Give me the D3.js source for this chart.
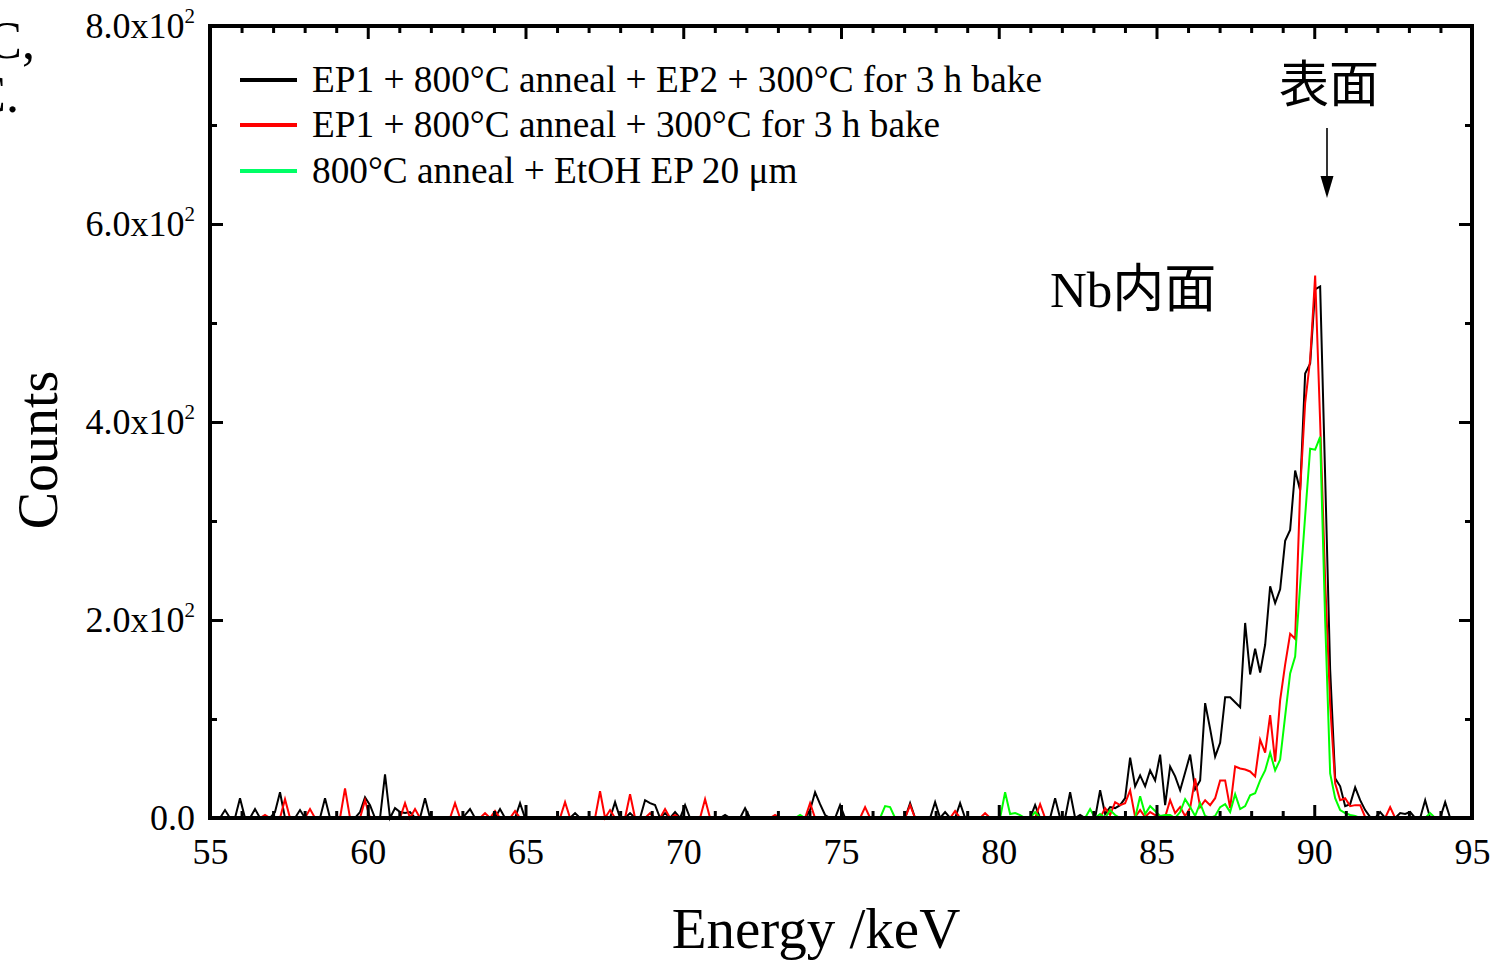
<!DOCTYPE html>
<html><head><meta charset="utf-8">
<script src="https://cdn.jsdelivr.net/npm/d3@7"></script>
<style>body{margin:0;background:#fff;} svg{display:block;}</style>
</head><body>
<svg id="c" width="1496" height="960"></svg>
<script>
// Spectrum channel calibration (keV)
const energyStart = 55.0;
const energyStep = 0.1585;

// Counts per channel
const countsEP2 = [
0,0,0,8,0,0,20,0,0,9,
0,0,0,6,26,0,0,0,8,0,
0,0,0,20,0,0,0,0,0,0,
6,21,13,0,0,44,0,10,6,5,
6,0,0,20,0,0,0,0,0,0,
0,3,9,0,0,0,0,0,9,0,
0,0,15,0,0,0,0,0,0,0,
0,0,0,5,0,0,0,0,0,0,
0,16,0,0,5,0,0,18,15,13,
0,5,0,6,0,13,0,0,0,0,
0,0,0,3,0,0,0,10,0,0,
0,0,0,0,0,0,0,0,0,0,
8,26,14,3,0,0,13,0,0,0,
0,0,0,0,0,0,0,0,0,0,
15,0,0,0,0,16,0,6,0,0,
15,0,0,0,0,0,0,0,0,0,
0,0,0,0,0,13,0,0,0,20,
0,0,26,0,3,0,0,0,28,4,
11,10,13,20,61,32,43,32,48,38,
64,13,52,42,28,46,64,29,38,116,
90,62,76,122,122,117,112,197,145,171,
147,175,234,217,231,280,291,351,331,449,
459,534,537,345,150,40,32,12,14,31,
18,8,1,0,6,0,0,0,5,4,
6,0,0,18,0,0,0,16,0,0,
0];
const countsNoEP2 = [
0,0,0,0,0,0,0,0,0,0,
0,3,0,0,0,19,0,0,0,0,
9,0,0,0,0,0,0,30,0,0,
0,18,0,0,0,0,0,0,0,15,
0,9,0,0,0,0,0,0,0,15,
0,0,0,0,0,5,0,7,0,0,
0,7,0,0,0,0,0,0,0,0,
0,16,0,0,0,0,0,0,27,0,
8,0,0,0,24,0,0,0,5,0,
0,9,0,3,0,0,0,0,0,19,
0,0,0,0,0,0,0,0,0,0,
0,0,0,3,0,0,0,0,0,0,
15,0,0,0,0,0,0,0,0,0,
0,11,0,0,0,0,0,0,0,0,
13,0,0,0,0,0,0,0,0,7,
0,0,0,0,0,5,0,0,0,0,
0,0,0,0,0,0,14,0,0,0,
0,0,0,0,0,0,0,0,0,10,
3,16,13,15,28,1,8,1,6,3,
1,1,18,5,11,2,10,40,11,18,
13,20,38,38,10,52,50,49,47,42,
79,66,104,57,119,155,186,181,331,419,
463,548,400,240,115,35,18,20,12,13,
13,1,0,0,0,0,11,0,0,0,
0,0,0,0,0,0,0,0,0,0,
0];
const countsEtOH = [
0,0,0,0,0,0,0,0,0,0,
0,0,0,0,0,0,0,0,0,0,
0,0,0,0,0,0,0,0,0,0,
0,0,0,0,0,0,0,0,0,0,
0,0,0,0,0,0,0,0,0,0,
0,0,0,0,0,0,0,0,0,0,
0,0,0,0,0,0,0,0,0,0,
0,0,0,0,0,0,0,0,0,0,
0,0,0,0,0,0,0,0,0,0,
0,0,0,0,0,0,0,0,0,0,
0,0,0,0,0,0,0,0,0,0,
0,0,0,0,0,0,0,0,3,0,
0,0,1,0,0,0,0,0,0,0,
0,0,0,0,0,12,11,0,0,0,
0,0,0,0,0,0,0,0,0,0,
0,0,0,0,0,0,0,0,0,26,
4,5,3,0,0,6,0,0,0,0,
0,0,0,0,0,0,9,0,4,0,
8,3,0,0,0,0,22,4,12,7,
2,3,3,0,6,19,11,2,15,2,
0,2,11,14,6,24,9,12,23,25,
38,48,66,48,59,103,146,163,235,305,
373,372,385,200,45,20,8,5,3,2,
0,0,0,0,0,0,0,0,0,0,
0,0,0,0,5,0,0,0,0,0,
0];

const seriesNames = [
  "EP1 + 800\u00B0C anneal + EP2 + 300\u00B0C for 3 h bake",
  "EP1 + 800\u00B0C anneal + 300\u00B0C for 3 h bake",
  "800\u00B0C anneal + EtOH EP 20 \u03BCm"
];
const seriesColors = ["#000000", "#ff0000", "#00ff00"];
const legendColors = ["#000000", "#ff0000", "#00ff66"];

const xTickValues = [55, 60, 65, 70, 75, 80, 85, 90, 95];
const xTickLabels = ["55", "60", "65", "70", "75", "80", "85", "90", "95"];
const yTickValues = [0, 200, 400, 600, 800];
const yTickMantissa = ["0.0", "2.0", "4.0", "6.0", "8.0"];
const yTickExponent = ["", "2", "2", "2", "2"];
const yMinorValues = [100, 300, 500, 700];

const xTitle = "Energy /keV";
const yTitle = "Counts";
const surfaceLabel = "\u8868\u9762";
const innerLabelLatin = "Nb";
const innerLabelCJK = "\u5185\u9762";
const edgeFragments = ["C,", "C."];

const serif = "'Liberation Serif','Times New Roman',serif";
const cjk = "'Noto Sans CJK JP','Noto Sans CJK SC',sans-serif";

const svg = d3.select("#c");
const L = 210, R = 1472, T = 26, B = 818;
const x = d3.scaleLinear().domain([55, 95]).range([L, R]);
const y = d3.scaleLinear().domain([0, 800]).range([B, T]);

const energies = countsEP2.map((_, i) => energyStart + i * energyStep);
const series = [countsEP2, countsNoEP2, countsEtOH];

// cropped fragments at top-left (text continuing from outside the picture)
svg.append("text").attr("x", 35).attr("y", 58).attr("text-anchor", "end")
  .attr("font-family", serif).attr("font-size", 52).text(edgeFragments[0]);
svg.append("text").attr("x", 19).attr("y", 112).attr("text-anchor", "end")
  .attr("font-family", serif).attr("font-size", 52).text(edgeFragments[1]);

// lines
const line = d3.line().x((d, i) => x(energies[i])).y(d => y(d));
series.forEach((s, k) => {
  svg.append("path").datum(s).attr("d", line)
    .attr("fill", "none").attr("stroke", seriesColors[k])
    .attr("stroke-width", 2).attr("stroke-linejoin", "miter");
});

// axes with inward ticks
const major = 13, minor = 7;
const xMinor = d3.range(56, 95, 1).filter(v => v % 5 !== 0);
function styleAxis(g) {
  g.select(".domain").remove();
  g.selectAll(".tick line").attr("stroke", "#000").attr("stroke-width", 3);
}
// bottom
svg.append("g").attr("transform", `translate(0,${B})`)
  .call(d3.axisBottom(x).tickValues(xTickValues).tickSizeInner(-major).tickSizeOuter(0)
    .tickPadding(20).tickFormat((d, i) => xTickLabels[i]))
  .call(styleAxis)
  .call(g => g.selectAll("text").attr("font-family", serif).attr("font-size", 36).attr("fill", "#000"));
svg.append("g").attr("transform", `translate(0,${B})`)
  .call(d3.axisBottom(x).tickValues(xMinor).tickSizeInner(-minor).tickSizeOuter(0).tickFormat(""))
  .call(styleAxis);
// top
svg.append("g").attr("transform", `translate(0,${T})`)
  .call(d3.axisTop(x).tickValues(xTickValues).tickSizeInner(-major).tickSizeOuter(0).tickFormat(""))
  .call(styleAxis);
svg.append("g").attr("transform", `translate(0,${T})`)
  .call(d3.axisTop(x).tickValues(xMinor).tickSizeInner(-minor).tickSizeOuter(0).tickFormat(""))
  .call(styleAxis);
// left
svg.append("g").attr("transform", `translate(${L},0)`)
  .call(d3.axisLeft(y).tickValues(yTickValues).tickSizeInner(-major).tickSizeOuter(0)
    .tickPadding(15).tickFormat((d, i) => yTickMantissa[i]))
  .call(styleAxis)
  .call(g => g.selectAll(".tick text").each(function(d) {
    const i = yTickValues.indexOf(d);
    const t = d3.select(this).attr("font-family", serif).attr("font-size", 36).attr("fill", "#000")
      .attr("dy", "0.33em").text(null);
    if (yTickExponent[i]) {
      t.append("tspan").text(yTickMantissa[i] + "x10");
      t.append("tspan").attr("font-size", 21).attr("dy", -15).text(yTickExponent[i]);
    } else {
      t.append("tspan").text(yTickMantissa[i]);
    }
  }));
svg.append("g").attr("transform", `translate(${L},0)`)
  .call(d3.axisLeft(y).tickValues(yMinorValues).tickSizeInner(-minor).tickSizeOuter(0).tickFormat(""))
  .call(styleAxis);
// right
svg.append("g").attr("transform", `translate(${R},0)`)
  .call(d3.axisRight(y).tickValues(yTickValues).tickSizeInner(-major).tickSizeOuter(0).tickFormat(""))
  .call(styleAxis);
svg.append("g").attr("transform", `translate(${R},0)`)
  .call(d3.axisRight(y).tickValues(yMinorValues).tickSizeInner(-minor).tickSizeOuter(0).tickFormat(""))
  .call(styleAxis);

// frame
svg.append("rect").attr("x", L).attr("y", T).attr("width", R - L).attr("height", B - T)
  .attr("fill", "none").attr("stroke", "#000").attr("stroke-width", 4);

// axis titles
svg.append("text").attr("x", 816).attr("y", 948).attr("text-anchor", "middle")
  .attr("font-family", serif).attr("font-size", 57).text(xTitle);
svg.append("text").attr("transform", `translate(57,${(T + B) / 2 + 28}) rotate(-90)`)
  .attr("text-anchor", "middle").attr("font-family", serif).attr("font-size", 56).text(yTitle);

// legend
const legY = [80, 125, 171];
seriesNames.forEach((n, k) => {
  svg.append("line").attr("x1", 240).attr("x2", 297).attr("y1", legY[k]).attr("y2", legY[k])
    .attr("stroke", legendColors[k]).attr("stroke-width", 4);
  svg.append("text").attr("x", 312).attr("y", legY[k] + 12)
    .attr("font-family", serif).attr("font-size", 37.3).text(n);
});

// annotations
const nb = svg.append("text").attr("x", 1050).attr("y", 307).attr("font-size", 51);
nb.append("tspan").attr("font-family", serif).text(innerLabelLatin);
nb.append("tspan").attr("font-family", cjk).attr("font-size", 52).text(innerLabelCJK);
svg.append("text").attr("x", 1279).attr("y", 102).attr("font-family", cjk).attr("font-size", 50)
  .text(surfaceLabel);
svg.append("line").attr("x1", 1327).attr("x2", 1327).attr("y1", 128).attr("y2", 182)
  .attr("stroke", "#000").attr("stroke-width", 1.6);
svg.append("path").attr("d", "M1320.5,176 L1333.5,176 L1327,198 Z").attr("fill", "#000");
</script>
</body></html>
